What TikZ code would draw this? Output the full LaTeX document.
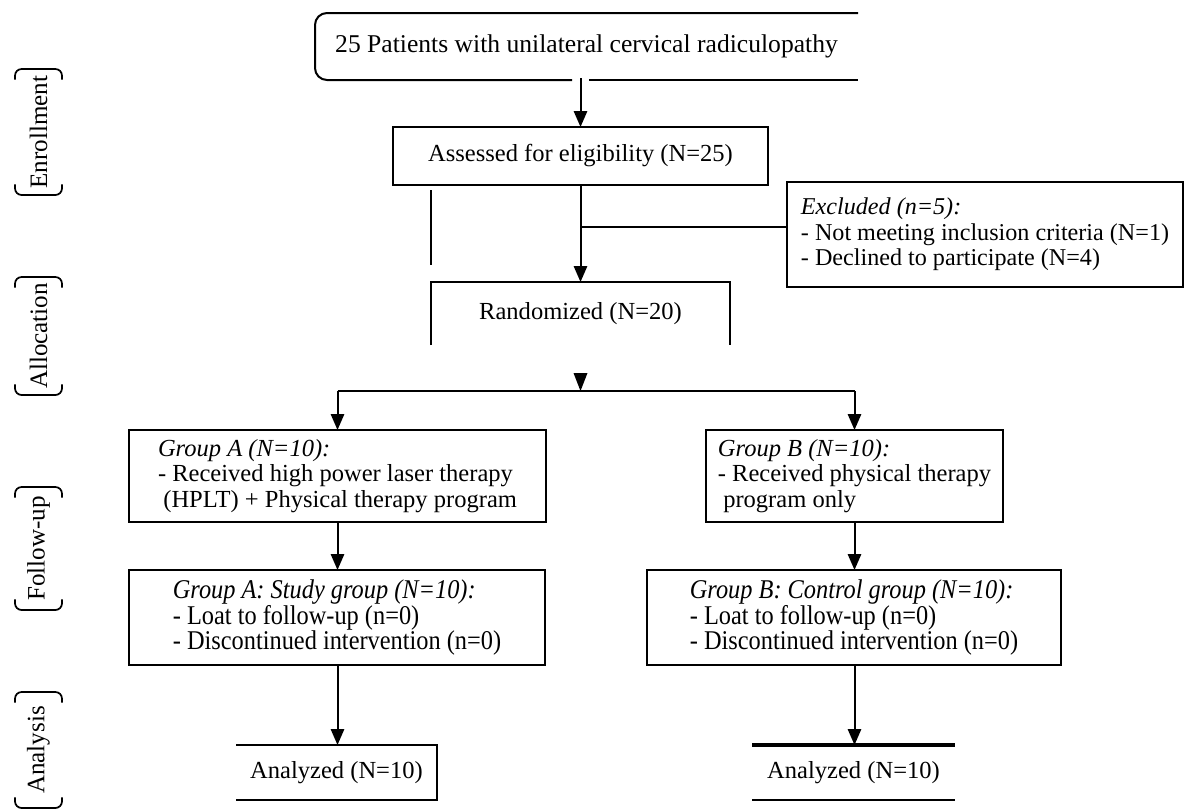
\documentclass[tikz,border=0pt]{standalone}
\usepackage{fontspec}
\setmainfont{Liberation Serif}
\newfontfamily\condfont{Liberation Serif}[FakeStretch=0.9]
\usetikzlibrary{arrows.meta,calc}
\begin{document}
\begin{tikzpicture}[x=0.75pt,y=-0.75pt,
  every node/.style={inner sep=0pt, outer sep=0pt},
  base/.style={font=\fontsize{18.4}{19}\selectfont},
  cond/.style={font=\condfont\fontsize{20.3}{19}\selectfont},
  ln/.style={line width=1.5pt},
  boxd/.style={draw, line width=1.5pt, align=left},
  arr/.style={ln, -{Triangle[length=12pt,width=10pt]}},
  phasebox/.style={font=\fontsize{18.8}{19}\selectfont, minimum width=35.25pt},
  phasecap/.style={line width=1.3pt, rounded corners=5pt}]

\useasboundingbox (0,0) rectangle (1186,810);

% top box
\node[font=\fontsize{19.2}{19}\selectfont, minimum width=407.25pt, minimum height=50.25pt] (pat) at (586.5,46.5) {25 Patients with unilateral cervical radiculopathy};
\draw[ln, rounded corners=9pt] (pat.north east) -- (pat.north west) -- (pat.south west) -- (572,80);
\draw[ln] (589,80) -- (pat.south east);

% assessed
\node[base, boxd, align=center, minimum width=281.25pt, minimum height=43.5pt] (as) at (580.5,156) {Assessed for eligibility (N=25)};
\draw[arr] ($(as.north |- pat.south)+(0,-2)$) -- (as.north);

% excluded
\node[boxd, font=\fontsize{18.1}{19}\selectfont, minimum width=297pt, minimum height=78.75pt] (ex) at (985,234.5)
  {\textit{Excluded (n=5):}\\- Not meeting inclusion criteria (N=1)\\- Declined to participate (N=4)};

% randomized
\node[base, minimum width=224.25pt, minimum height=47.25pt] (rd) at (580.5,313.5) {Randomized (N=20)};
\draw[ln] (rd.south west) -- (rd.north west) -- (rd.north east) -- (rd.south east);

\draw[ln] ($(as.south -| rd.west)+(0,5)$) -- ($(as.south -| rd.west)+(0,80)$);
\draw[arr] (as.south) -- (rd.north);
\coordinate (br) at ($(as.south)+(0,42)$);
\draw[ln] (br) -- (br -| ex.west);

% split
\coordinate (sp) at (580.5,391);
\fill ($(sp)+(-7,-18)$) -- ($(sp)+(7,-18)$) -- (sp) -- cycle;

% groups
\node[base, boxd, minimum width=312.75pt, minimum height=69pt] (ga) at (337.5,476)
  {\textit{Group A (N=10):}\\- Received high power laser therapy\\\hspace*{4pt}(HPLT) + Physical therapy program};
\node[base, boxd, minimum width=222.75pt, minimum height=69pt] (gb) at (854.5,476)
  {\textit{Group B (N=10):}\\- Received physical therapy\\\hspace*{4pt}program only};

\draw[ln] (sp -| ga.north) -- (sp -| gb.north);
\draw[arr] (sp -| ga.north) -- (ga.north);
\draw[arr] (sp -| gb.north) -- (gb.north);

% follow-up boxes
\node[cond, boxd, minimum width=312pt, minimum height=71.25pt] (sa) at (337,617.5)
  {\textit{Group A: Study group (N=10):}\\- Loat to follow-up (n=0)\\- Discontinued intervention (n=0)};
\node[cond, boxd, minimum width=310.5pt, minimum height=71.25pt] (sb) at (854,617.5)
  {\textit{Group B: Control group (N=10):}\\- Loat to follow-up (n=0)\\- Discontinued intervention (n=0)};

\draw[arr] (ga.south) -- (ga.south |- sa.north);
\draw[arr] (gb.south) -- (gb.south |- sb.north);

% analysis
\node[base, minimum width=150.75pt, minimum height=41.25pt] (aa) at (336.5,772.5) {Analyzed (N=10)};
\draw[ln] (aa.north west) -- (aa.north east) -- (aa.south east) -- (aa.south west);
\draw[arr] (ga.south |- sa.south) -- (ga.south |- aa.north);

\node[base, minimum width=152.25pt, minimum height=41.25pt] (ab) at (853.5,772.5) {Analyzed (N=10)};
\draw[line width=2.6pt] (ab.north west) -- (ab.north east);
\draw[line width=1.3pt] (ab.south west) -- (ab.south east);
\draw[arr] (gb.south |- sb.south) -- (gb.south |- ab.north);

% phase labels
\node[phasebox, minimum height=94.5pt] (p1) at (38.5,132) {\rotatebox{90}{Enrollment}};
\node[phasebox, minimum height=88.5pt] (p2) at (38.5,336) {\rotatebox{90}{Allocation}};
\node[phasebox, minimum height=92.25pt] (p3) at (38.5,548.5) {\rotatebox{90}{Follow-up}};
\node[phasebox, minimum height=87pt] (p4) at (38.5,750) {\rotatebox{90}{Analysis}};
\foreach \p in {p1,p2,p3,p4}{
  \draw[phasecap] ([yshift=-8pt]\p.north west) -- (\p.north west) -- (\p.north east) -- ([yshift=-8pt]\p.north east);
  \draw[phasecap] ([yshift=8pt]\p.south west) -- (\p.south west) -- (\p.south east) -- ([yshift=8pt]\p.south east);
}
\end{tikzpicture}
\end{document}
